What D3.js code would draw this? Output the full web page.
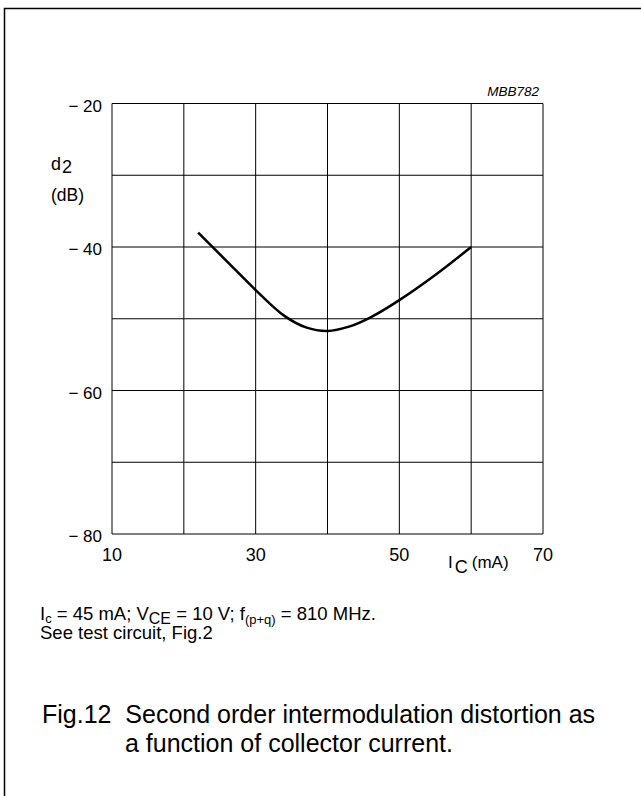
<!DOCTYPE html>
<html>
<head>
<meta charset="utf-8">
<script src="https://cdn.jsdelivr.net/npm/d3@7"></script>
<style>
  body { margin: 0; background: #fff; }
  text { font-family: "Liberation Sans", Arial, sans-serif; fill: #000; white-space: pre; }
</style>
</head>
<body>
<svg id="chart" width="641" height="796"></svg>
<script>
// collector current (mA) vs d2 (dB)
const currentMA = [22, 26, 30, 34, 37, 40, 43, 46, 50, 55, 60];
const d2dB = [-38, -42, -46, -49.6, -51.2, -51.7, -51.1, -49.8, -47.4, -43.9, -40];
const xTicks = [10, 30, 50, 70];
const xGrid = [10, 20, 30, 40, 50, 60, 70];
const yTicks = [-20, -40, -60, -80];
const yGrid = [-20, -30, -40, -50, -60, -70, -80];

const svg = d3.select('#chart');

// outer frame, runs off the right and bottom
svg.append('rect')
    .attr('x', 4.5).attr('y', 8.5)
    .attr('width', 700).attr('height', 900)
    .attr('fill', 'none')
    .attr('stroke', '#000')
    .attr('stroke-width', 1.5);

const margin = { top: 103.5, left: 112, right: 543, bottom: 534 };

const x = d3.scaleLinear().domain([10, 70]).range([margin.left, margin.right]);
const y = d3.scaleLinear().domain([-20, -80]).range([margin.top, margin.bottom]);

// grid
svg.append('g')
    .selectAll('line')
    .data(xGrid)
    .join('line')
    .attr('x1', d => x(d)).attr('x2', d => x(d))
    .attr('y1', y(-20)).attr('y2', y(-80))
    .attr('stroke', '#000').attr('stroke-width', 1);

svg.append('g')
    .selectAll('line')
    .data(yGrid)
    .join('line')
    .attr('x1', x(10)).attr('x2', x(70))
    .attr('y1', d => y(d)).attr('y2', d => y(d))
    .attr('stroke', '#000').attr('stroke-width', 1);

// tick labels
svg.append('g')
    .selectAll('text')
    .data(yTicks)
    .join('text')
    .attr('x', x(10) - 10)
    .attr('y', d => y(d) + 8)
    .attr('text-anchor', 'end')
    .attr('font-size', '17px')
    .text(d => '\u2212 ' + Math.abs(d));

svg.append('g')
    .selectAll('text')
    .data(xTicks)
    .join('text')
    .attr('x', d => x(d))
    .attr('y', y(-80) + 27)
    .attr('text-anchor', 'middle')
    .attr('font-size', '18px')
    .text(d => d);

// curve
const line = d3.line()
    .x((d, i) => x(currentMA[i]))
    .y(d => y(d))
    .curve(d3.curveCatmullRom.alpha(0.5));

svg.append('path')
    .datum(d2dB)
    .attr('fill', 'none')
    .attr('stroke', '#000')
    .attr('stroke-width', 2.5)
    .attr('d', line);

// axis titles
const yt = svg.append('text').attr('x', 51).attr('y', 170).attr('font-size', '18px');
yt.append('tspan').text('d');
yt.append('tspan').attr('dy', 3).attr('dx', 1).text('2');

svg.append('text')
    .attr('x', 51).attr('y', 201)
    .attr('font-size', '17.5px')
    .text('(dB)');

const xt = svg.append('text').attr('x', 448).attr('y', 568).attr('font-size', '17px');
xt.append('tspan').text('I');
xt.append('tspan').attr('dy', 5).attr('dx', 2).attr('font-size', '18px').text('C');
xt.append('tspan').attr('dy', -5).attr('dx', 4).text('(mA)');

svg.append('text')
    .attr('x', 539).attr('y', 96)
    .attr('text-anchor', 'end')
    .attr('font-size', '13.5px')
    .attr('font-style', 'italic')
    .text('MBB782');

// conditions note
const n1 = svg.append('text').attr('x', 40).attr('y', 620).attr('font-size', '18.5px');
n1.append('tspan').text('I');
n1.append('tspan').attr('dy', 3).attr('font-size', '13px').text('c');
n1.append('tspan').attr('dy', -3).text(' = 45 mA; V');
n1.append('tspan').attr('dy', 4).attr('font-size', '16px').text('CE');
n1.append('tspan').attr('dy', -4).text(' = 10 V; f');
n1.append('tspan').attr('dy', 4).attr('font-size', '13px').text('(p+q)');
n1.append('tspan').attr('dy', -4).text(' = 810 MHz.');

svg.append('text')
    .attr('x', 40).attr('y', 639)
    .attr('font-size', '18.5px')
    .text('See test circuit, Fig.2');

// caption
svg.append('text')
    .attr('x', 42).attr('y', 723)
    .attr('font-size', '25px')
    .text('Fig.12  Second order intermodulation distortion as');

svg.append('text')
    .attr('x', 125).attr('y', 752)
    .attr('font-size', '25px')
    .text('a function of collector current.');
</script>
</body>
</html>
